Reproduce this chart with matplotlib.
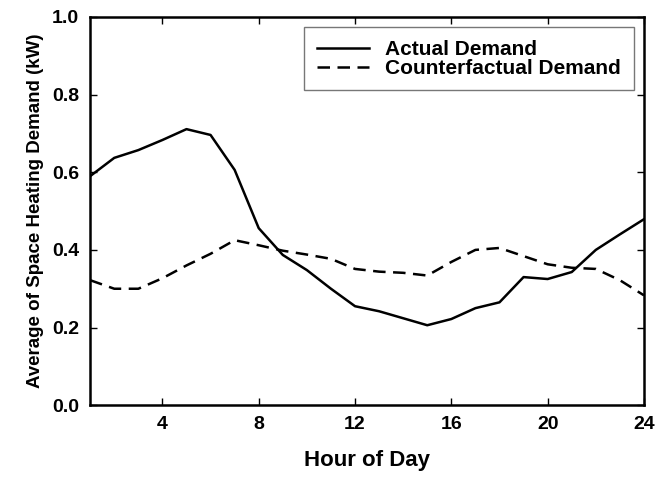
import matplotlib
matplotlib.use("Agg")
import matplotlib.pyplot as plt

hours = list(range(1, 25))
actual = [0.59, 0.637, 0.657, 0.683, 0.711, 0.696, 0.606, 0.456, 0.387, 0.348, 0.30, 0.255,
          0.242, 0.224, 0.206, 0.222, 0.25, 0.265, 0.33, 0.325, 0.343, 0.40, 0.44, 0.479]
counterfactual = [0.322, 0.30, 0.30, 0.327, 0.36, 0.39, 0.425, 0.412, 0.398, 0.388, 0.377, 0.351,
                  0.344, 0.341, 0.334, 0.369, 0.40, 0.405, 0.384, 0.363, 0.354, 0.351, 0.322, 0.283]
xticks = [4, 8, 12, 16, 20, 24]
yticks = [0.0, 0.2, 0.4, 0.6, 0.8, 1.0]

plt.rcParams['font.family'] = ['Liberation Sans', 'DejaVu Sans']
plt.rcParams['font.weight'] = 'bold'

fig = plt.figure(figsize=(6.68, 4.83), dpi=100)
ax = fig.add_axes([0.135, 0.161, 0.829, 0.804])

ax.plot(hours, actual, color='black', linewidth=1.8, label='Actual Demand')
ax.plot(hours, counterfactual, color='black', linewidth=1.8, linestyle=(0, (5, 3)),
        label='Counterfactual Demand')

ax.set_xlim(1, 24)
ax.set_ylim(0, 1)
ax.set_xticks(xticks)
ax.set_yticks(yticks)
ax.set_yticklabels([f"{v:.1f}" for v in yticks])
ax.tick_params(direction='in', top=True, right=True, length=5, width=1,
               labelsize=14, pad=8)
for lbl in ax.get_xticklabels() + ax.get_yticklabels():
    lbl.set_fontweight('bold')
for s in ax.spines.values():
    s.set_linewidth(1.8)

ax.set_xlabel('Hour of Day', fontsize=16, fontweight='bold', labelpad=12)
ax.set_ylabel('Average of Space Heating Demand (kW)', fontsize=13.5, fontweight='bold', labelpad=6)

leg = ax.legend(loc='upper right', frameon=True, fancybox=False,
                handlelength=2.5, handletextpad=0.8, borderaxespad=0.5,
                labelspacing=0.0, borderpad=0.6,
                prop={'weight': 'bold', 'size': 15})
leg.get_frame().set_edgecolor('#555555')
leg.get_frame().set_linewidth(1.0)

fig.savefig('out.png', dpi=100)
